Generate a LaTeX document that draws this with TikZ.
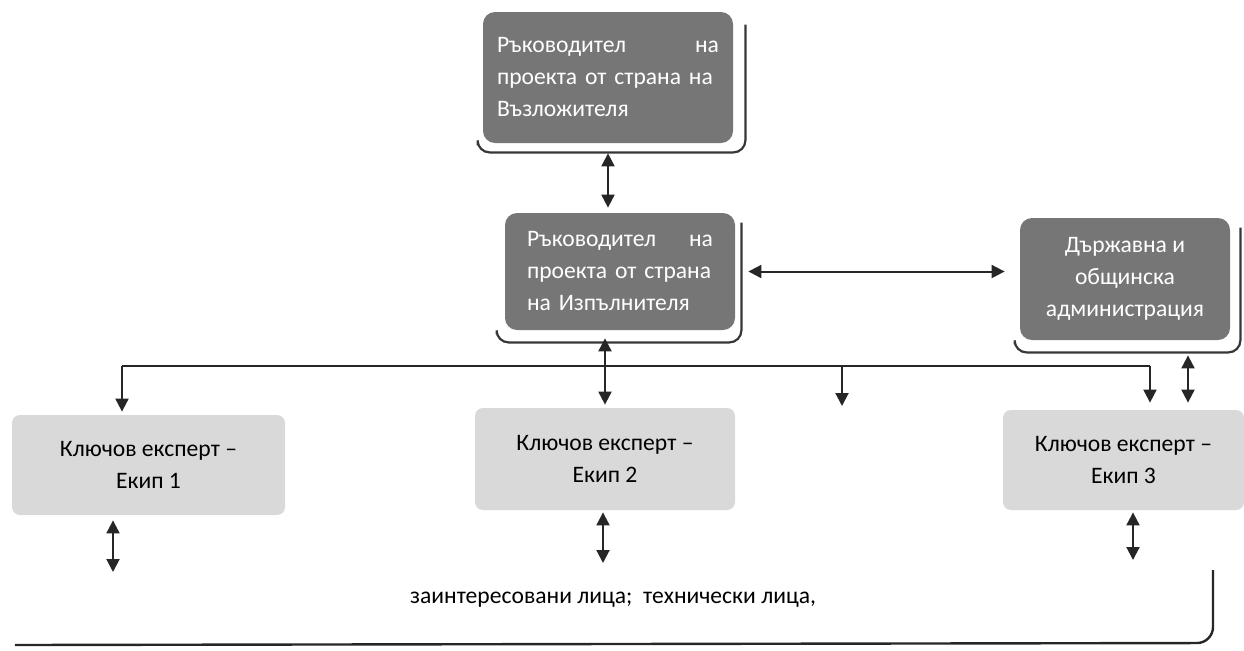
\documentclass[tikz,border=0pt]{standalone}
\usepackage{fontspec}
\setmainfont{Carlito}
\usetikzlibrary{arrows.meta}

\definecolor{boxdark}{RGB}{118,118,118}
\definecolor{boxlight}{RGB}{217,217,217}
\definecolor{rimline}{RGB}{55,55,55}

\begin{document}
\begin{tikzpicture}[x=0.5pt, y=-0.5pt,
	lead/.style={fill=boxdark, rounded corners=6pt, text=white, inner sep=0pt,
		font=\fontsize{11.8}{16}\selectfont},
	team/.style={fill=boxlight, rounded corners=4pt, inner sep=0pt, align=center,
		font=\fontsize{11.8}{16}\selectfont},
	rim/.style={draw=rimline, line width=1.1pt, rounded corners=6pt},
	wire/.style={draw=black!85, line width=1pt},
	oneway/.style={wire, -{Triangle[length=6.5pt,width=6.5pt]}},
	twoway/.style={wire, {Triangle[length=6.5pt,width=6.5pt]}-{Triangle[length=6.5pt,width=6.5pt]}}
]
	\useasboundingbox (0,0) rectangle (1244,650);

	% boxes
	\node [lead, minimum width=125pt, minimum height=65.5pt, text width=111pt, align=left] (top) at (608,77.5)
		{Ръководител\hfill на\\проекта от страна на\\Възложителя};
	\draw [rim] ([xshift=6pt,yshift=-6.5pt]top.north east) -- ([xshift=6pt,yshift=-4.5pt]top.south east)
		-- ([xshift=-2.5pt,yshift=-4.5pt]top.south west) -- ([xshift=-2.5pt,yshift=-1pt]top.south west);

	\node [lead, minimum width=115pt, minimum height=58.5pt, text width=93pt, align=left] (mid) at (620,271.5)
		{Ръководител\hfill на\\проекта от страна\\на Изпълнителя};
	\draw [rim] ([xshift=3pt,yshift=-5pt]mid.north east) -- ([xshift=3pt,yshift=-6pt]mid.south east)
		-- ([xshift=-4pt,yshift=-6pt]mid.south west) -- ([xshift=-4pt,yshift=-2pt]mid.south west);

	\node [lead, minimum width=105pt, minimum height=61pt, align=center] (state) at (1125,279)
		{Държавна и\\общинска\\администрация};
	\draw [rim] ([xshift=5pt,yshift=-5pt]state.north east) -- ([xshift=5pt,yshift=-6pt]state.south east)
		-- ([xshift=-2.5pt,yshift=-6pt]state.south west) -- ([xshift=-2.5pt,yshift=-2pt]state.south west);

	\node [team, minimum width=136.5pt, minimum height=50pt] (team1) at (148.5,465) {Ключов експерт –\\Екип 1};
	\node [team, minimum width=130pt, minimum height=51pt] (team2) at (605,459) {Ключов експерт –\\Екип 2};
	\node [team, minimum width=120.5pt, minimum height=50pt] (team3) at (1123.5,460) {Ключов експерт –\\Екип 3};

	\node [font=\fontsize{11.8}{14}\selectfont] (stake) at (613,600) {заинтересовани лица;\ \ технически лица,};

	% connectors
	\coordinate (busL) at (122,366);
	\coordinate (busR) at (1150,366);
	\coordinate (free) at (842,406);
	\coordinate (foot1) at (113,572);
	\coordinate (foot2) at (603,563);
	\coordinate (foot3) at (1133,560);
	\coordinate (brL) at (15,645);
	\coordinate (brC) at (1213,643);
	\coordinate (brT) at (1213,570);

	\draw [twoway, shorten <=5pt, shorten >=2.5pt] (top.south) -- (top.south |- mid.north);
	\draw [twoway, shorten <=6.5pt, shorten >=7.5pt] (mid.east) -- (mid.east -| state.west);
	\draw [wire] (busL) -- (busR);
	\draw [oneway, shorten >=1.5pt] (busL) -- (busL |- team1.north);
	\draw [twoway, shorten <=4pt, shorten >=1.5pt] (team2.north |- mid.south) -- (team2.north);
	\draw [oneway] (free |- busL) -- (free);
	\draw [oneway, shorten >=3.5pt] (busR) -- (busR |- team3.north);
	\draw [twoway, shorten <=7.5pt, shorten >=3.5pt] ([xshift=31.5pt]state.south) -- ([xshift=31.5pt]state.south |- team3.north);
	\draw [twoway, shorten <=2.5pt] (foot1 |- team1.south) -- (foot1);
	\draw [twoway, shorten <=1pt] (foot2 |- team2.south) -- (foot2);
	\draw [twoway, shorten <=1pt] (foot3 |- team3.south) -- (foot3);
	\draw [wire, line width=1.2pt, rounded corners=8pt] (brL) -- (brC) -- (brT);
\end{tikzpicture}
\end{document}
